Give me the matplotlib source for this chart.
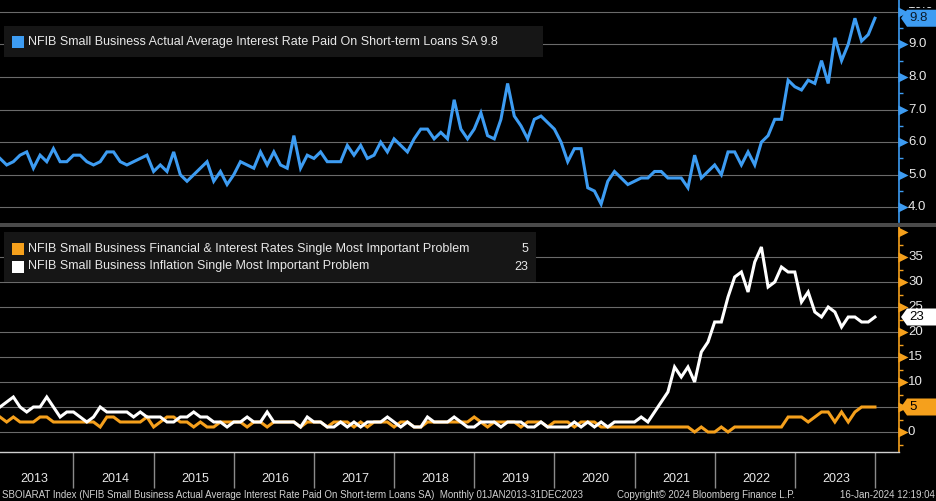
import numpy as np
import matplotlib
matplotlib.use("Agg")
import matplotlib.pyplot as plt
from matplotlib.patches import Rectangle, Polygon
from matplotlib.transforms import (blended_transform_factory, IdentityTransform,
                                   offset_copy, Bbox)

plt.rcParams['font.family'] = ['Liberation Sans', 'DejaVu Sans']

# ---------------- data (monthly, Jan 2013 - Dec 2023) ----------------
years = [str(y) for y in range(2013, 2024)]

rate_sa = [
    5.5, 5.3, 5.4, 5.6, 5.7, 5.2, 5.6, 5.4, 5.8, 5.4, 5.4, 5.6,   # 2013
    5.6, 5.4, 5.3, 5.4, 5.7, 5.7, 5.4, 5.3, 5.4, 5.5, 5.6, 5.1,   # 2014
    5.3, 5.1, 5.7, 5.0, 4.8, 5.0, 5.2, 5.4, 4.8, 5.1, 4.7, 5.0,   # 2015
    5.4, 5.3, 5.2, 5.7, 5.3, 5.7, 5.3, 5.2, 6.2, 5.2, 5.6, 5.5,   # 2016
    5.7, 5.4, 5.4, 5.4, 5.9, 5.6, 5.9, 5.5, 5.6, 6.0, 5.7, 6.1,   # 2017
    5.9, 5.7, 6.1, 6.4, 6.4, 6.1, 6.3, 6.1, 7.3, 6.4, 6.1, 6.4,   # 2018
    6.9, 6.2, 6.1, 6.7, 7.8, 6.8, 6.5, 6.1, 6.7, 6.8, 6.6, 6.4,   # 2019
    6.0, 5.4, 5.8, 5.8, 4.6, 4.5, 4.1, 4.8, 5.1, 4.9, 4.7, 4.8,   # 2020
    4.9, 4.9, 5.1, 5.1, 4.9, 4.9, 4.9, 4.6, 5.6, 4.9, 5.1, 5.3,   # 2021
    5.0, 5.7, 5.7, 5.3, 5.7, 5.3, 6.0, 6.2, 6.7, 6.7, 7.9, 7.7,   # 2022
    7.6, 7.9, 7.8, 8.5, 7.8, 9.2, 8.5, 9.0, 9.8, 9.1, 9.3, 9.8,   # 2023
]

inflation_problem = [
    5, 6, 7, 5, 4, 5, 5, 7, 5, 3, 4, 4,
    3, 2, 3, 5, 4, 4, 4, 4, 3, 4, 3, 3,
    3, 2, 2, 3, 3, 4, 3, 3, 2, 2, 1, 2,
    2, 3, 2, 2, 4, 2, 2, 2, 2, 1, 3, 2,
    2, 1, 1, 2, 1, 2, 1, 2, 2, 2, 3, 2,
    1, 2, 1, 1, 3, 2, 2, 2, 3, 2, 1, 1,
    2, 2, 2, 1, 2, 2, 2, 1, 1, 2, 1, 1,
    1, 1, 2, 1, 2, 1, 2, 1, 2, 2, 2, 2,
    3, 2, 4, 6, 8, 13, 11, 13, 10, 16, 18, 22,
    22, 27, 31, 32, 28, 34, 37, 29, 30, 33, 32, 32,
    26, 28, 24, 23, 25, 24, 21, 23, 23, 22, 22, 23,
]

fin_rates_problem = [
    3, 2, 3, 2, 2, 2, 3, 3, 2, 2, 2, 2,
    2, 2, 2, 1, 3, 3, 2, 2, 2, 2, 3, 1,
    2, 3, 3, 2, 2, 1, 2, 1, 1, 2, 2, 2,
    2, 1, 2, 2, 1, 2, 2, 2, 2, 1, 2, 2,
    2, 1, 2, 2, 2, 1, 2, 1, 2, 2, 2, 1,
    2, 2, 1, 1, 2, 2, 2, 2, 2, 2, 2, 3,
    2, 1, 2, 2, 2, 2, 1, 2, 2, 2, 1, 2,
    2, 2, 1, 2, 2, 2, 1, 1, 1, 1, 1, 1,
    1, 1, 1, 1, 1, 1, 1, 1, 0, 1, 0, 0,
    1, 0, 1, 1, 1, 1, 1, 1, 1, 1, 3, 3,
    3, 2, 3, 4, 4, 2, 4, 2, 4, 5, 5, 5,
]

rate_label = "NFIB Small Business Actual Average Interest Rate Paid On Short-term Loans SA"
fin_label = "NFIB Small Business Financial & Interest Rates Single Most Important Problem"
infl_label = "NFIB Small Business Inflation Single Most Important Problem"

top_ticks = [4, 5, 6, 7, 8, 9, 10]
top_tick_labels = ['4.0', '5.0', '6.0', '7.0', '8.0', '9.0', '10.0']
top_minor = [4.5, 5.5, 6.5, 7.5, 8.5, 9.5]
bot_ticks = [0, 5, 10, 15, 20, 25, 30, 35]
bot_tick_labels = ['0', '5', '10', '15', '20', '25', '30', '35']
bot_markers = [0, 5, 10, 15, 20, 25, 30, 35, 40]
bot_minor = [-2.5, 2.5, 7.5, 12.5, 17.5, 22.5, 27.5, 32.5, 37.5]

footer_left = ("SBOIARAT Index (NFIB Small Business Actual Average Interest Rate Paid On "
               "Short-term Loans SA)  Monthly 01JAN2013-31DEC2023")
footer_mid = "Copyright\u00a9 2024 Bloomberg Finance L.P."
footer_right = "16-Jan-2024 12:19:04"

# ---------------- style ----------------
BLUE = '#3d9cf2'
ORANGE = '#f5a01c'
WHITE = '#ffffff'
GRID = '#6a6a6a'
TXT = '#e8e8e8'
BOX = '#161616'

W, H = 937, 501
fig = plt.figure(figsize=(W / 100, H / 100), dpi=100, facecolor='black')


def px_axes(x0, y0, x1, y1):
    return fig.add_axes([x0 / W, 1 - y1 / H, (x1 - x0) / W, (y1 - y0) / H])


months = np.arange(len(rate_sa))
ax1 = px_axes(0, 0, 899, 222)
ax2 = px_axes(0, 227, 899, 452)

for ax in (ax1, ax2):
    ax.set_facecolor('black')
    ax.set_xlim(0, 134.6)


def style_y(ax, color, ticks, minor, markers, ylim):
    ax.set_ylim(*ylim)
    ax.yaxis.tick_right()
    ax.set_yticks(ticks)
    ax.set_yticklabels([''] * len(ticks))
    ax.set_yticks(minor, minor=True)
    ax.tick_params(axis='y', which='major', length=0)
    ax.tick_params(axis='y', which='minor', length=3, width=1, color=color,
                   direction='out')
    ax.yaxis.grid(True, which='major', color=GRID, lw=0.8)
    ax.set_axisbelow(True)
    for s in ('left', 'top'):
        ax.spines[s].set_visible(False)
    ax.spines['right'].set_color(color)
    ax.spines['right'].set_linewidth(1.2)
    tri = offset_copy(blended_transform_factory(ax.transAxes, ax.transData),
                      fig=fig, x=4, y=0, units='dots')
    ax.plot(np.ones(len(markers)), markers, ls='none', marker='>', ms=6.5,
            color=color, mec='none', transform=tri, clip_on=False)


style_y(ax1, BLUE, top_ticks, top_minor, top_ticks, (3.55, 10.36))
style_y(ax2, ORANGE, bot_ticks, bot_minor, bot_markers, (-4, 41))

ax1.spines['bottom'].set_visible(False)
ax1.set_xticks([])
ax2.spines['bottom'].set_color('#cfcfcf')
ax2.spines['bottom'].set_linewidth(1)

# year bands on the bottom axis
sep = np.arange(11, len(rate_sa) + 1, 12)
centers = np.arange(5.2, len(rate_sa), 12)
ax2.set_xticks(sep)
ax2.set_xticklabels([''] * len(sep))
ax2.set_xticks(centers, minor=True)
ax2.set_xticklabels(years, minor=True)
ax2.tick_params(axis='x', which='major', length=26, width=1, color='#8a8a8a',
                direction='out')
ax2.tick_params(axis='x', which='minor', length=0, pad=15, labelsize=9,
                labelcolor=TXT)

# data lines
ax1.plot(months, rate_sa, color=BLUE, lw=2.2, solid_joinstyle='miter')
ax2.plot(months, fin_rates_problem, color=ORANGE, lw=2.2, solid_joinstyle='miter')
ax2.plot(months, inflation_problem, color=WHITE, lw=2.2, solid_joinstyle='miter')

TAG_H = 8.5


def tag_y(ax, value):
    return ax.transData.transform((0, value))[1]


tags = [
    (ax1, rate_sa[-1], f"{rate_sa[-1]:.1f}", BLUE, '#0b1b2b'),
    (ax2, inflation_problem[-1], f"{inflation_problem[-1]}", WHITE, '#000000'),
    (ax2, fin_rates_problem[-1], f"{fin_rates_problem[-1]}", ORANGE, '#000000'),
]


def draw_tick_labels(ax, ticks, labels, ax_top_px, ax_bot_px, top_shift_last=False):
    bands = [(tag_y(a, v) - TAG_H, tag_y(a, v) + TAG_H) for a, v, *_ in tags if a is ax]
    for k, (v, s) in enumerate(zip(ticks, labels)):
        y = tag_y(ax, v)
        va = 'center'
        if top_shift_last and k == len(ticks) - 1:
            # top-most label sits above its tick and is cut by the panel top
            t = fig.text(908, y + 1, s, transform=IdentityTransform(), color=TXT,
                         fontsize=9.5, va='bottom', ha='left', zorder=3)
            t.set_clip_on(True)
            t.set_clip_box(Bbox([[899, ax_bot_px], [W, ax_top_px]]))
            continue
        lo, hi = ax_bot_px, ax_top_px
        covered = False
        for b0, b1 in bands:
            if b0 - 1 <= y <= b1 + 1:
                covered = True
            elif b0 - 8 < y < b0:
                hi = min(hi, b0)
            elif b1 < y < b1 + 8:
                lo = max(lo, b1)
        if covered:
            continue
        t = fig.text(908, y, s, transform=IdentityTransform(), color=TXT,
                     fontsize=9.5, va=va, ha='left', zorder=3)
        t.set_clip_on(True)
        t.set_clip_box(Bbox([[899, lo], [W, hi]]))


draw_tick_labels(ax1, top_ticks, top_tick_labels, H - 7, H - 222, top_shift_last=True)
draw_tick_labels(ax2, bot_ticks, bot_tick_labels, H - 227, H - 452)


def value_tag(ax, value, text, fc, tc):
    ypx = tag_y(ax, value)
    x0, x1, h = 901, W, TAG_H
    pts = [(x0, ypx), (x0 + 6, ypx + h), (x1, ypx + h), (x1, ypx - h), (x0 + 6, ypx - h)]
    fig.add_artist(Polygon(pts, closed=True, transform=IdentityTransform(),
                           fc=fc, ec='none', zorder=5))
    fig.text(x0 + 8, ypx, text, transform=IdentityTransform(), color=tc,
             fontsize=9.5, va='center', ha='left', zorder=6)


for a, v, s, fc, tc in tags:
    value_tag(a, v, s, fc, tc)

# separator bar between panels
fig.add_artist(Rectangle((0, H - 227), W, 4.5, transform=IdentityTransform(),
                         fc='#4a4a4a', ec='none', zorder=2))


def rect(x0, y0, x1, y1, fc, z=3):
    fig.add_artist(Rectangle((x0, H - y1), x1 - x0, y1 - y0,
                             transform=IdentityTransform(), fc=fc, ec='none', zorder=z))


def ptext(x, y, s, **kw):
    fig.text(x, H - y, s, transform=IdentityTransform(), **kw)


# top legend
rect(3.6, 25.7, 543, 57, BOX)
rect(12, 36, 23.5, 47.5, BLUE, 4)
ptext(28, 41.5, f"{rate_label} {rate_sa[-1]:.1f}", color=TXT, fontsize=9,
      va='center', ha='left', zorder=4)

# bottom legend
rect(3.6, 232, 536, 282, BOX)
rect(12, 243, 23.5, 254.5, ORANGE, 4)
rect(12, 261, 23.5, 272.5, WHITE, 4)
ptext(28, 249, fin_label, color=TXT, fontsize=9, va='center', ha='left', zorder=4)
ptext(28, 266.5, infl_label, color=TXT, fontsize=9, va='center', ha='left', zorder=4)
ptext(528, 249, f"{fin_rates_problem[-1]}", color=TXT, fontsize=9, va='center',
      ha='right', zorder=4)
ptext(528, 266.5, f"{inflation_problem[-1]}", color=TXT, fontsize=9, va='center',
      ha='right', zorder=4)

# footer
ptext(2, 495, footer_left, color='#d0d0d0', fontsize=7, va='center', ha='left')
ptext(617, 495, footer_mid, color='#d0d0d0', fontsize=7, va='center', ha='left')
ptext(935, 495, footer_right, color='#d0d0d0', fontsize=7, va='center', ha='right')

fig.savefig('out.png', dpi=100, facecolor='black')
